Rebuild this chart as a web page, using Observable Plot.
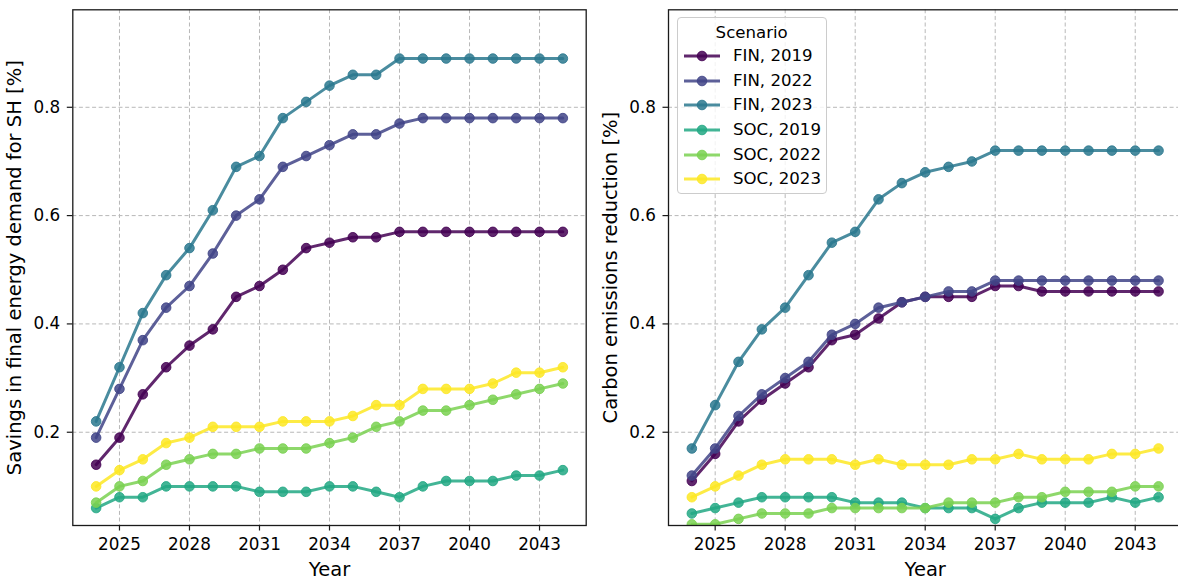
<!DOCTYPE html>
<html>
<head>
<meta charset="utf-8">
<script src="https://cdn.jsdelivr.net/npm/d3@7"></script>
<script src="https://cdn.jsdelivr.net/npm/@observablehq/plot@0.6"></script>
<style>
  html, body { margin: 0; padding: 0; background: #fff; }
  #figure { position: relative; width: 1178px; height: 579px; overflow: hidden; font-family: "DejaVu Sans", sans-serif; color: #000; }
  .panel { position: absolute; top: 0; width: 595px; height: 579px; }
  .panel svg { max-width: none !important; }
  .legend { position: absolute; box-sizing: border-box; border: 1px solid #cccccc; border-radius: 4px; background: rgba(255,255,255,0.8); font-size: 16.6px; }
  .legend .title { position: absolute; left: 0; right: 0; text-align: center; line-height: 20px; }
  .legend .row { position: absolute; left: 0; height: 20px; line-height: 20px; white-space: nowrap; }
  .legend .row svg { position: absolute; top: 4px; }
  .legend .row span { position: absolute; }
</style>
</head>
<body>
<div id="figure"></div>
<script>
// Simulation years
const years = [2024, 2025, 2026, 2027, 2028, 2029, 2030, 2031, 2032, 2033, 2034,
               2035, 2036, 2037, 2038, 2039, 2040, 2041, 2042, 2043, 2044];

// Scenarios and their viridis colours
const scenarios = ["FIN, 2019", "FIN, 2022", "FIN, 2023", "SOC, 2019", "SOC, 2022", "SOC, 2023"];
const scenarioColors = ["#440154", "#414487", "#2a788e", "#22a884", "#7ad151", "#fde725"];

// Savings in final energy demand for space heating (share)
const savingsFin2019 = [0.14, 0.19, 0.27, 0.32, 0.36, 0.39, 0.45, 0.47, 0.50, 0.54, 0.55, 0.56, 0.56, 0.57, 0.57, 0.57, 0.57, 0.57, 0.57, 0.57, 0.57];
const savingsFin2022 = [0.19, 0.28, 0.37, 0.43, 0.47, 0.53, 0.60, 0.63, 0.69, 0.71, 0.73, 0.75, 0.75, 0.77, 0.78, 0.78, 0.78, 0.78, 0.78, 0.78, 0.78];
const savingsFin2023 = [0.22, 0.32, 0.42, 0.49, 0.54, 0.61, 0.69, 0.71, 0.78, 0.81, 0.84, 0.86, 0.86, 0.89, 0.89, 0.89, 0.89, 0.89, 0.89, 0.89, 0.89];
const savingsSoc2019 = [0.06, 0.08, 0.08, 0.10, 0.10, 0.10, 0.10, 0.09, 0.09, 0.09, 0.10, 0.10, 0.09, 0.08, 0.10, 0.11, 0.11, 0.11, 0.12, 0.12, 0.13];
const savingsSoc2022 = [0.07, 0.10, 0.11, 0.14, 0.15, 0.16, 0.16, 0.17, 0.17, 0.17, 0.18, 0.19, 0.21, 0.22, 0.24, 0.24, 0.25, 0.26, 0.27, 0.28, 0.29];
const savingsSoc2023 = [0.10, 0.13, 0.15, 0.18, 0.19, 0.21, 0.21, 0.21, 0.22, 0.22, 0.22, 0.23, 0.25, 0.25, 0.28, 0.28, 0.28, 0.29, 0.31, 0.31, 0.32];

// Carbon emissions reduction (share)
const carbonFin2019 = [0.11, 0.16, 0.22, 0.26, 0.29, 0.32, 0.37, 0.38, 0.41, 0.44, 0.45, 0.45, 0.45, 0.47, 0.47, 0.46, 0.46, 0.46, 0.46, 0.46, 0.46];
const carbonFin2022 = [0.12, 0.17, 0.23, 0.27, 0.30, 0.33, 0.38, 0.40, 0.43, 0.44, 0.45, 0.46, 0.46, 0.48, 0.48, 0.48, 0.48, 0.48, 0.48, 0.48, 0.48];
const carbonFin2023 = [0.17, 0.25, 0.33, 0.39, 0.43, 0.49, 0.55, 0.57, 0.63, 0.66, 0.68, 0.69, 0.70, 0.72, 0.72, 0.72, 0.72, 0.72, 0.72, 0.72, 0.72];
const carbonSoc2019 = [0.05, 0.06, 0.07, 0.08, 0.08, 0.08, 0.08, 0.07, 0.07, 0.07, 0.06, 0.06, 0.06, 0.04, 0.06, 0.07, 0.07, 0.07, 0.08, 0.07, 0.08];
const carbonSoc2022 = [0.03, 0.03, 0.04, 0.05, 0.05, 0.05, 0.06, 0.06, 0.06, 0.06, 0.06, 0.07, 0.07, 0.07, 0.08, 0.08, 0.09, 0.09, 0.09, 0.10, 0.10];
const carbonSoc2023 = [0.08, 0.10, 0.12, 0.14, 0.15, 0.15, 0.15, 0.14, 0.15, 0.14, 0.14, 0.14, 0.15, 0.15, 0.16, 0.15, 0.15, 0.15, 0.16, 0.16, 0.17];

// Axis ticks
const xTicks = [2025, 2028, 2031, 2034, 2037, 2040, 2043];
const yTicks = [0.2, 0.4, 0.6, 0.8];

const savingsSeries = [savingsFin2019, savingsFin2022, savingsFin2023, savingsSoc2019, savingsSoc2022, savingsSoc2023];
const carbonSeries = [carbonFin2019, carbonFin2022, carbonFin2023, carbonSoc2019, carbonSoc2022, carbonSoc2023];

const figure = document.getElementById("figure");
const ink = "#1a1a1a";
const gridStyle = {stroke: "#b8b8b8", strokeOpacity: 1, strokeWidth: 1, strokeDasharray: "4,2.6"};
const seriesOpacity = 0.85;

function drawPanel(series, yLabel, left, marginLeft, marginRight) {
  const rows = scenarios.flatMap((scenario, i) =>
    years.map((year, j) => ({scenario, year, value: series[i][j]})));

  // line first, then its markers, one scenario after another
  const seriesMarks = scenarios.flatMap((scenario) => {
    const d = rows.filter((r) => r.scenario === scenario);
    return [
      Plot.line(d, {x: "year", y: "value", stroke: "scenario", strokeWidth: 3, strokeOpacity: seriesOpacity, clip: true}),
      Plot.dot(d, {x: "year", y: "value", fill: "scenario", stroke: "scenario", r: 4.8, strokeWidth: 1,
                   fillOpacity: seriesOpacity, strokeOpacity: seriesOpacity, clip: true})
    ];
  });

  const chart = Plot.plot({
    width: 595,
    height: 579,
    marginTop: 9.3,
    marginBottom: 54,
    marginLeft,
    marginRight,
    style: {fontFamily: "DejaVu Sans, sans-serif", fontSize: "16.8px", background: "transparent", color: "#000",
            overflow: "visible", maxWidth: "none"},
    x: {domain: [2023, 2045], label: null},
    y: {domain: [0.0278, 0.98], label: null},
    color: {domain: scenarios, range: scenarioColors},
    marks: [
      Plot.gridX(xTicks, gridStyle),
      Plot.gridY(yTicks, gridStyle),
      ...seriesMarks,
      Plot.frame({stroke: ink, strokeWidth: 1.3}),
      Plot.axisX(xTicks, {tickSize: 5.5, tickPadding: 7, tickFormat: (d) => String(d), fontSize: 16.8,
                          stroke: ink, strokeWidth: 1.2, fill: "#000", label: null}),
      Plot.axisY(yTicks, {tickSize: 5.5, tickPadding: 7, tickFormat: d3.format(".1f"), fontSize: 16.8,
                          stroke: ink, strokeWidth: 1.2, fill: "#000", label: null}),
      Plot.text(["Year"], {text: (d) => d, frameAnchor: "bottom", dy: 50, lineAnchor: "bottom",
                           textAnchor: "middle", fontSize: 19.5, fill: "#000"}),
      Plot.text([yLabel], {text: (d) => d, frameAnchor: "left", dx: -52, rotate: -90, lineAnchor: "bottom",
                           textAnchor: "middle", fontSize: 19.5, fill: "#000"})
    ]
  });
  const holder = document.createElement("div");
  holder.className = "panel";
  holder.style.left = left + "px";
  holder.appendChild(chart);
  figure.appendChild(holder);
}

drawPanel(savingsSeries, "Savings in final energy demand for SH [%]", 0, 72.3, 9.3);
drawPanel(carbonSeries, "Carbon emissions reduction [%]", 595, 73, 8.6);

// Scenario legend in the upper left of the emissions panel
const legend = document.createElement("div");
legend.className = "legend";
Object.assign(legend.style, {left: "676.7px", top: "17.3px", width: "150px", height: "177px"});
const title = document.createElement("div");
title.className = "title";
title.style.top = "4.4px";
title.textContent = "Scenario";
legend.appendChild(title);
scenarios.forEach((name, i) => {
  const row = document.createElement("div");
  row.className = "row";
  row.style.top = (27.7 + i * 24.65) + "px";
  row.style.width = "148px";
  const c = scenarioColors[i];
  row.innerHTML =
    `<svg width="40" height="12" style="left:6.3px">` +
    `<line x1="0" x2="36" y1="6" y2="6" stroke="${c}" stroke-opacity="${seriesOpacity}" stroke-width="3"/>` +
    `<circle cx="18" cy="6" r="4.8" fill="${c}" fill-opacity="${seriesOpacity}" stroke="${c}" stroke-opacity="${seriesOpacity}" stroke-width="1"/></svg>` +
    `<span style="left:55.3px">${name}</span>`;
  legend.appendChild(row);
});
figure.appendChild(legend);
</script>
</body>
</html>
